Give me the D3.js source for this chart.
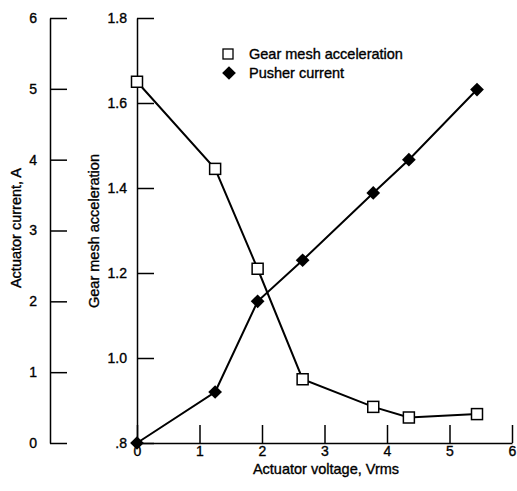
<!DOCTYPE html>
<html>
<head>
<meta charset="utf-8">
<script src="https://cdn.jsdelivr.net/npm/d3@7"></script>
<style>
  body { margin: 0; background: #fff; }
  svg text { font-family: "Liberation Sans", Arial, Helvetica, sans-serif; fill: #000; stroke: #000; stroke-width: 0.35px; }
</style>
</head>
<body>
<div id="chart"></div>
<script>
// Data
const voltage = [0, 1.25, 1.93, 2.65, 3.78, 4.35, 5.44];
const gearMesh = [1.65, 1.445, 1.21, 0.95, 0.885, 0.86, 0.868];
const pusherCurrent = [0, 0.72, 2.0, 2.58, 3.53, 4.0, 4.99];
const xTicks = [0, 1, 2, 3, 4, 5, 6];
const gearTicks = [0.8, 1.0, 1.2, 1.4, 1.6, 1.8];
const gearTickLabels = [".8", "1.0", "1.2", "1.4", "1.6", "1.8"];
const currentTicks = [0, 1, 2, 3, 4, 5, 6];

const W = 517, H = 491;

const svg = d3.select("#chart")
  .append("svg")
    .attr("width", W)
    .attr("height", H);

// Scales
const x = d3.scaleLinear().domain([0, 6]).range([137, 512]);
const yGear = d3.scaleLinear().domain([0.8, 1.8]).range([443, 18]);
const yCur = d3.scaleLinear().domain([0, 6]).range([443, 18]);

function styleAxis(g) {
  g.select(".domain").attr("stroke", "#000").attr("stroke-width", 1.5);
  g.selectAll(".tick line").attr("stroke", "#000").attr("stroke-width", 1.5);
  g.selectAll(".tick text").attr("font-size", 14).attr("fill", "#000");
  g.attr("font-family", null).attr("font-size", 14);
}

// Current axis (far left)
svg.append("g")
    .attr("transform", `translate(50,0)`)
    .call(d3.axisLeft(yCur).tickValues(currentTicks).tickFormat(d3.format("d"))
      .tickSizeInner(-17).tickSizeOuter(0).tickPadding(13))
    .call(styleAxis);

// Gear mesh axis
svg.append("g")
    .attr("transform", `translate(137,0)`)
    .call(d3.axisLeft(yGear).tickValues(gearTicks)
      .tickFormat((d, i) => gearTickLabels[i])
      .tickSizeInner(-17).tickSizeOuter(0).tickPadding(10))
    .call(styleAxis);

// X axis
svg.append("g")
    .attr("transform", `translate(0,443)`)
    .call(d3.axisBottom(x).tickValues(xTicks).tickFormat(d3.format("d"))
      .tickSizeInner(-18).tickSizeOuter(0).tickPadding(3))
    .call(styleAxis);

// Axis titles
svg.append("text")
    .attr("transform", "translate(21,228) rotate(-90)")
    .attr("text-anchor", "middle")
    .attr("font-size", 14.5)
    .text("Actuator current, A");

svg.append("text")
    .attr("transform", "translate(99,231) rotate(-90)")
    .attr("text-anchor", "middle")
    .attr("font-size", 14.5)
    .text("Gear mesh acceleration");

svg.append("text")
    .attr("x", 326)
    .attr("y", 474)
    .attr("text-anchor", "middle")
    .attr("font-size", 14.5)
    .text("Actuator voltage, Vrms");

// Series
const gearData = voltage.map((v, i) => ({ x: v, y: gearMesh[i] }));
const curData = voltage.map((v, i) => ({ x: v, y: pusherCurrent[i] }));

svg.append("path")
    .datum(curData)
    .attr("fill", "none")
    .attr("stroke", "#000")
    .attr("stroke-width", 2)
    .attr("d", d3.line().x(d => x(d.x)).y(d => yCur(d.y)));

svg.append("path")
    .datum(gearData)
    .attr("fill", "none")
    .attr("stroke", "#000")
    .attr("stroke-width", 2)
    .attr("d", d3.line().x(d => x(d.x)).y(d => yGear(d.y)));

const diamond = d3.symbol().type(d3.symbolDiamond2).size(120);

svg.selectAll(".diamond")
  .data(curData)
  .enter()
  .append("path")
    .attr("class", "diamond")
    .attr("transform", d => `translate(${x(d.x)},${yCur(d.y)})`)
    .attr("d", diamond)
    .attr("fill", "#000");

svg.selectAll(".square")
  .data(gearData)
  .enter()
  .append("rect")
    .attr("class", "square")
    .attr("x", d => x(d.x) - 5.5)
    .attr("y", d => yGear(d.y) - 5.5)
    .attr("width", 11)
    .attr("height", 11)
    .attr("fill", "#fff")
    .attr("stroke", "#000")
    .attr("stroke-width", 1.5);

// Legend
const legend = svg.append("g");
legend.append("rect")
    .attr("x", 223).attr("y", 49)
    .attr("width", 10).attr("height", 10)
    .attr("fill", "#fff").attr("stroke", "#000").attr("stroke-width", 1.3);
legend.append("text")
    .attr("x", 249).attr("y", 59)
    .attr("font-size", 14.5)
    .text("Gear mesh acceleration");
legend.append("path")
    .attr("transform", "translate(229,73)")
    .attr("d", diamond)
    .attr("fill", "#000");
legend.append("text")
    .attr("x", 249).attr("y", 78)
    .attr("font-size", 14.5)
    .text("Pusher current");
</script>
</body>
</html>
